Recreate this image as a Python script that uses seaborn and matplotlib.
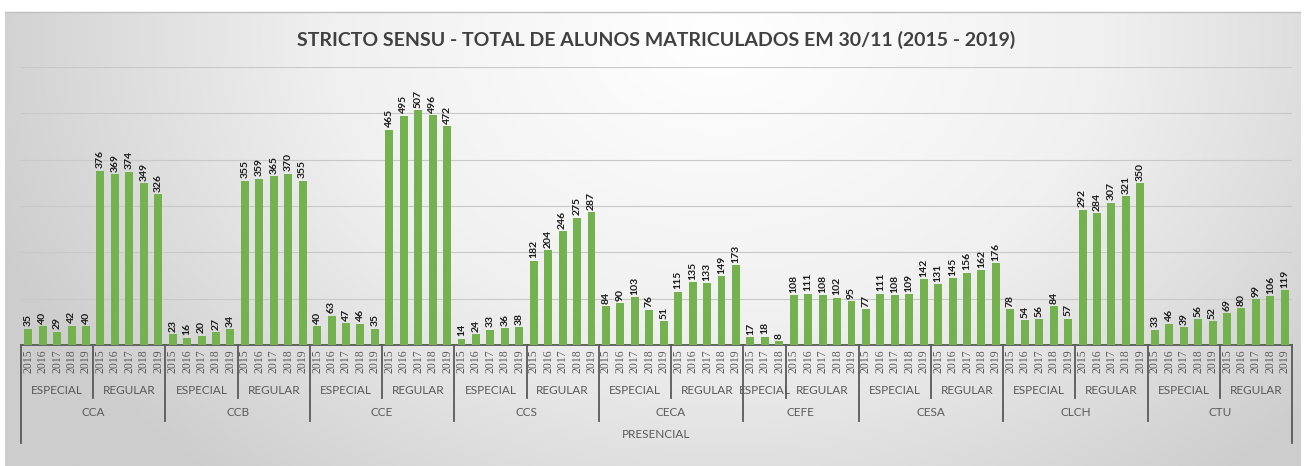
import numpy as np
import pandas as pd
import matplotlib
matplotlib.use('Agg')
import matplotlib.pyplot as plt
import seaborn as sns
from matplotlib.colors import LinearSegmentedColormap
from matplotlib.transforms import blended_transform_factory

# dados
centros = ['CCA', 'CCB', 'CCE', 'CCS', 'CECA', 'CEFE', 'CESA', 'CLCH', 'CTU']
anos = [2015, 2016, 2017, 2018, 2019]
anos_cefe_especial = [2015, 2017, 2018]

especial = {
    'CCA': [35, 40, 29, 42, 40],
    'CCB': [23, 16, 20, 27, 34],
    'CCE': [40, 63, 47, 46, 35],
    'CCS': [14, 24, 33, 36, 38],
    'CECA': [84, 90, 103, 76, 51],
    'CEFE': [17, 18, 8],
    'CESA': [77, 111, 108, 109, 142],
    'CLCH': [78, 54, 56, 84, 57],
    'CTU': [33, 46, 39, 56, 52],
}
regular = {
    'CCA': [376, 369, 374, 349, 326],
    'CCB': [355, 359, 365, 370, 355],
    'CCE': [465, 495, 507, 496, 472],
    'CCS': [182, 204, 246, 275, 287],
    'CECA': [115, 135, 133, 149, 173],
    'CEFE': [108, 111, 108, 102, 95],
    'CESA': [131, 145, 156, 162, 176],
    'CLCH': [292, 284, 307, 321, 350],
    'CTU': [69, 80, 99, 106, 119],
}

rows = []
for c in centros:
    anos_esp = anos_cefe_especial if c == 'CEFE' else anos
    for a, v in zip(anos_esp, especial[c]):
        rows.append((c, 'ESPECIAL', a, v))
    for a, v in zip(anos, regular[c]):
        rows.append((c, 'REGULAR', a, v))
df = pd.DataFrame(rows, columns=['centro', 'tipo', 'ano', 'valor'])
df['chave'] = df['centro'] + '|' + df['tipo'] + '|' + df['ano'].astype(str)

FONTE = ['Lato', 'DejaVu Sans']

W, H = 1307, 466
fig = plt.figure(figsize=(W / 100, H / 100), dpi=100)
fig.patch.set_facecolor('white')

# fundo com degradê
bg = fig.add_axes([5 / W, 0, 1295 / W, (H - 12) / H])
yy, xx = np.mgrid[0:1:200j, 0:1:600j]
d = np.sqrt(((xx - 0.55) / 0.6) ** 2 + ((yy - 0.05) / 1.3) ** 2)
cmap = LinearSegmentedColormap.from_list('bg', ['#ffffff', '#f0f0f0', '#cdcdcd'])
bg.imshow(np.clip(d, 0, 1), cmap=cmap, aspect='auto', extent=[0, 1, 1, 0], vmin=0, vmax=1)
bg.set_axis_off()
fig.add_artist(plt.Line2D([5 / W, 1300 / W], [(H - 12) / H] * 2, color='#bfbfbf', lw=1))

left, right, base, top = 21, 1292, 345, 67
ax = fig.add_axes([left / W, (H - base) / H, (right - left) / W, (base - top) / H])
ax.set_facecolor('none')

GREEN = '#74b14f'
sns.barplot(data=df, x='chave', y='valor', color=GREEN, width=0.55, ax=ax,
            order=list(df['chave']), saturation=1, zorder=3)

ax.set_ylim(0, 600)
ax.set_xlim(-0.5, len(df) - 0.5)
ax.set_yticks([100, 200, 300, 400, 500, 600])
ax.yaxis.grid(True, color='#c8c8c8', lw=0.8)
ax.set_axisbelow(True)
ax.tick_params(axis='y', length=0, labelleft=False)
ax.tick_params(axis='x', length=0, pad=3)
ax.set_xticks(range(len(df)))
ax.set_xticklabels(df['ano'].astype(str), rotation=90, fontsize=8.5, color='#595959',
                   family=['Liberation Serif', 'DejaVu Serif'])
ax.set_xlabel('')
ax.set_ylabel('')
for s in ['top', 'right', 'left']:
    ax.spines[s].set_visible(False)
ax.spines['bottom'].set_color('#595959')
ax.spines['bottom'].set_linewidth(1.3)

# rótulos de dados
for i, v in enumerate(df['valor']):
    ax.text(i, v + 5, str(v), rotation=90, ha='center', va='bottom', fontsize=7.5,
            fontweight='bold', color='#1a1a1a', family=FONTE)

def ay(py):
    return (base - py) / (base - top)

tr = blended_transform_factory(ax.transData, ax.transAxes)
lab_font = dict(fontsize=8.5, color='#595959', family=FONTE)

pos = 0
for c in centros:
    inicio_c = pos
    for t in ['ESPECIAL', 'REGULAR']:
        n = int(((df['centro'] == c) & (df['tipo'] == t)).sum())
        ax.text(pos + n / 2 - 0.5, ay(391), t, transform=tr, ha='center', va='center', **lab_font)
        if t == 'ESPECIAL':
            ax.plot([pos + n - 0.5] * 2, [0, ay(398)], transform=tr, color='#595959',
                    lw=1.3, clip_on=False)
        pos += n
    ax.text((inicio_c + pos) / 2 - 0.5, ay(413), c, transform=tr, ha='center', va='center', **lab_font)
    if pos < len(df):
        ax.plot([pos - 0.5] * 2, [0, ay(421)], transform=tr, color='#595959', lw=1.3, clip_on=False)

for xb in [-0.5, len(df) - 0.5]:
    ax.plot([xb] * 2, [0, ay(443)], transform=tr, color='#595959', lw=1.3, clip_on=False)
ax.text((len(df) - 1) / 2, ay(435), 'PRESENCIAL', transform=tr, ha='center', va='center', **lab_font)

fig.text(656 / W, 1 - 40 / H, 'STRICTO SENSU - TOTAL DE ALUNOS MATRICULADOS EM 30/11 (2015 - 2019)',
         ha='center', va='center', fontsize=14, fontweight='bold', color='#404040', family=FONTE)

fig.savefig('out.png', dpi=100)
